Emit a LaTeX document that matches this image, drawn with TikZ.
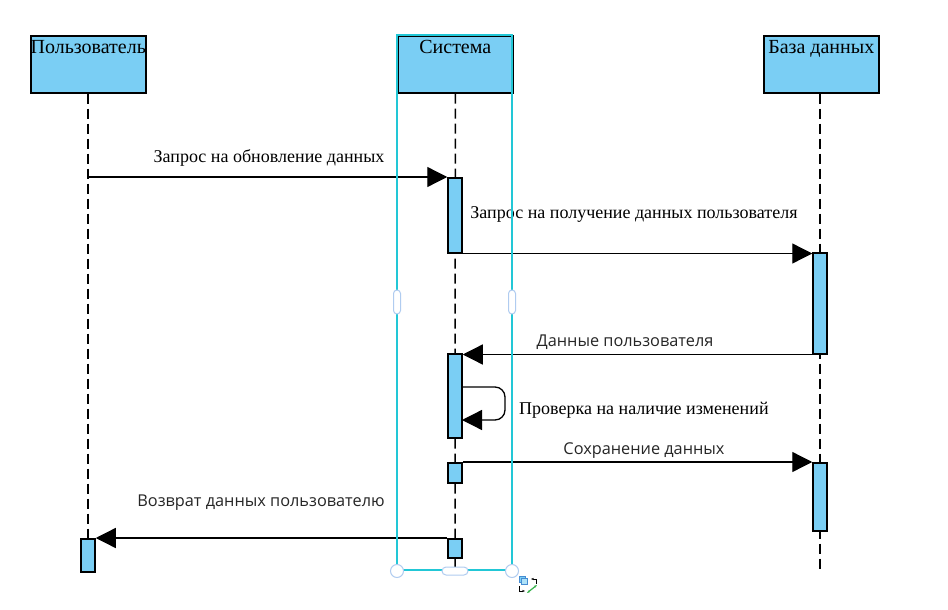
\documentclass[tikz,border=0pt]{standalone}
\usepackage{fontspec}
\setmainfont{Liberation Serif}
\newfontfamily\sansf{Open Sans}
\usetikzlibrary{arrows.meta}
\definecolor{boxblue}{RGB}{122,206,244}
\definecolor{selcyan}{RGB}{34,199,214}
\definecolor{handlec}{RGB}{176,204,240}
\definecolor{icongreen}{RGB}{60,180,80}
\definecolor{iconblue}{RGB}{70,140,210}
\begin{document}
\begin{tikzpicture}[x=1pt,y=-1pt,
  headbox/.style={draw=black, line width=1.6pt, fill=boxblue, minimum width=115pt, minimum height=57pt, inner sep=0pt, anchor=north west},
  headtext/.style={font=\fontsize{20}{23}\selectfont, anchor=north, inner sep=0pt},
  act/.style={draw=black, line width=1.5pt, fill=boxblue, minimum width=14pt, inner sep=0pt, anchor=north},
  life/.style={line width=1.5pt, dash pattern=on 10pt off 5pt},
  msg/.style={line width=1.3pt, -{Triangle[length=20pt,width=20pt]}},
  lblserif/.style={font=\fontsize{18}{21}\selectfont, inner sep=0pt},
  lblsans/.style={font=\sansf\fontsize{16.3}{19}\selectfont, inner sep=0pt, text=black!85},
  handle/.style={draw=handlec, line width=1pt, fill=white}
]
\useasboundingbox (0,0) rectangle (948,610);
\fill[white] (0,0) rectangle (948,610);

% header boxes
\node[headbox] (u) at (30,35) {};
\node[headbox] (s) at (397,35) {};
\node[headbox] (d) at (763,35) {};
\node[headtext] (ut) at ([yshift=-5pt]u.north) {Пользователь};
\node[headtext] (st) at ([yshift=-5pt]s.north) {Система};
\node[headtext] (dt) at ([yshift=-5pt]d.north) {База данных};

% lifeline ends
\coordinate (uend) at (88,538);
\coordinate (send) at (455,570);
\coordinate (dend) at (820,570);
\draw[life] (u.south -| uend) -- (uend);
\draw[life] (s.south) -- (send);
\draw[life] (d.south -| dend) -- (dend);

% activations
\node[act, minimum height=75pt] (a1) at (455,177) {};
\node[act, minimum height=101pt] (b1) at (820,252) {};
\node[act, minimum height=84pt] (a2) at (455,353) {};
\node[act, minimum height=20pt] (a3) at (455,462) {};
\node[act, minimum height=68pt] (b2) at (820,462) {};
\node[act, minimum height=19pt] (a4) at (455,538) {};
\node[act, minimum height=33pt] (ua) at (88,538) {};

% messages
\coordinate (m1s) at (88,177);
\draw[msg] (m1s) -- (m1s -| a1.west);
\draw[msg] (a1.south west) -- (a1.south west -| b1.west);
\draw[msg] (b1.south west) -- (b1.south west -| a2.east);
\coordinate (l1) at (462,387);
\coordinate (l2) at (505,387);
\coordinate (l3) at (505,420);
\coordinate (l4) at (462,420);
\draw[msg, rounded corners=10pt] (l1) -- (l2) -- (l3) -- (l4);
\draw[msg] (a3.north east) -- (a3.north east -| b2.west);
\draw[msg] (a4.north west) -- (a4.north west -| ua.east);

% labels
\node[lblserif] (t1) at (269,158) {Запрос на обновление данных};
\node[lblserif] (t2) at (634,214) {Запрос на получение данных пользователя};
\node[lblsans] (t3) at (625,342) {Данные пользователя};
\node[lblserif, anchor=west] (t4) at (519,410) {Проверка на наличие изменений};
\node[lblsans] (t5) at (644,451) {Сохранение данных};
\node[lblsans] (t6) at (261,503) {Возврат данных пользователю};

% selection frame
\draw[selcyan, line width=2.2pt] (397,35) rectangle (512,570);
\draw[handle, rounded corners=3.5pt] (393.5,290) rectangle (400.5,314);
\draw[handle, rounded corners=3.5pt] (508.5,290) rectangle (515.5,314);
\draw[handle, rounded corners=4pt] (442,567) rectangle (468,575);
\draw[handle] (397,571) circle (6.5);
\draw[handle] (512,571) circle (6.5);

% small icon
\draw[iconblue, fill=boxblue, line width=0.8pt] (519,576) rectangle (525,582);
\draw[iconblue, fill=boxblue!60, line width=0.8pt] (521,578) rectangle (527,584);
\draw[black, line width=1pt, -{Stealth[length=3pt]}] (536,584) -- (536,579) -- (531,579);
\draw[black, line width=1pt, -{Stealth[length=3pt]}] (519,586) -- (519,591) -- (525,591);
\draw[icongreen, line width=1.2pt, {Stealth[length=3pt]}-{Stealth[length=3pt]}] (527,593) -- (537,585);
\end{tikzpicture}
\end{document}
